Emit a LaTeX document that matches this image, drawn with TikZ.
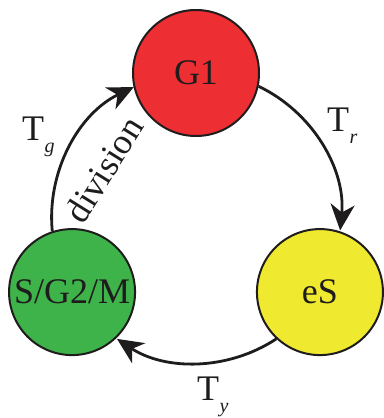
\documentclass[tikz,border=0pt]{standalone}
\usepackage{fontspec}
\setmainfont{Liberation Serif}
\newfontfamily\labelface{Liberation Serif}
\usetikzlibrary{arrows.meta,calc}
\definecolor{phasered}{RGB}{237,46,51}
\definecolor{phaseyellow}{RGB}{239,233,48}
\definecolor{phasegreen}{RGB}{62,179,74}
\definecolor{ink}{RGB}{30,28,28}
% time label: upright T with a lowered italic subscript
\newcommand{\Tsub}[1]{T\kern0.5bp\raisebox{-12bp}{\fontsize{20bp}{20bp}\selectfont\itshape #1}}
\begin{document}
\begin{tikzpicture}[x=1bp,y=1bp,
  phase/.style={circle, draw=ink, line width=2bp, minimum size=126bp, inner sep=0pt,
    font=\labelface\fontsize{36bp}{36bp}\selectfont, text=ink, text height=23.8bp, text depth=0bp},
  flow/.style={draw=ink, line width=2.8bp, -{Stealth[length=26bp,width=24bp,inset=8bp]}},
  lbl/.style={anchor=base west, inner sep=0pt, font=\labelface\fontsize{36bp}{36bp}\selectfont, text=ink}]
\useasboundingbox (0,0) rectangle (384,418);
% centre of the cycle
\coordinate (C) at (196,200.4);
% phases
\node[phase, fill=phasered]    (G1) at ([shift={(90:144.6)}]C)  {G1};
\node[phase, fill=phaseyellow] (eS) at ([shift={(-31:144.6)}]C) {eS};
\node[phase, fill=phasegreen]  (SM) at ([shift={(211:144.6)}]C) {S/G2/M};
% transitions along the cycle circle
\draw[flow] (G1.-12.78)  arc[start angle=64.43,  end angle=-5.43,   radius=144.6];
\draw[flow] (eS.-133.78) arc[start angle=-56.57, end angle=-123.43, radius=144.6];
\draw[flow] (SM.108.22)  arc[start angle=185.43, end angle=115.57,  radius=144.6];
% labels
\node[lbl] (Tr) at (327,287) {\Tsub{r}};
\node[lbl] (Tg) at (22,278)  {\Tsub{g}};
\node[lbl] (Ty) at (197,18)  {\Tsub{y}};
\node[lbl, anchor=base, rotate=58] (div) at (114.3,242.1) {division};
\end{tikzpicture}
\end{document}
